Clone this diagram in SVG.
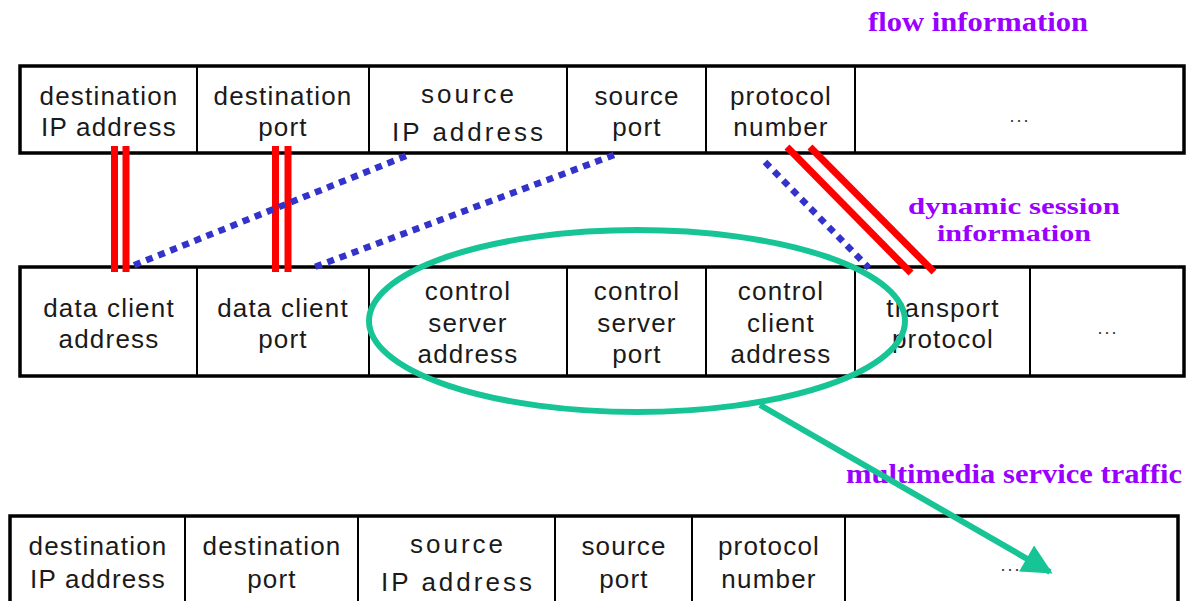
<svg xmlns="http://www.w3.org/2000/svg" width="1186" height="601" viewBox="0 0 1186 601">
  <defs>
    <style>
      .frame { fill: #ffffff; stroke: #000000; stroke-width: 3.5; }
      .div { stroke: #000000; stroke-width: 2; }
      .cell { font-family: "Liberation Sans", Arial, sans-serif; font-size: 26px; fill: #1a1a1a; text-anchor: middle; letter-spacing: 1.2px; }
      .wide { letter-spacing: 3px; }
      .dots { font-family: "Liberation Sans", Arial, sans-serif; font-size: 18px; fill: #333333; text-anchor: middle; letter-spacing: 2px; }
      .note { font-family: "Liberation Serif", "Times New Roman", serif; font-weight: bold; font-size: 28px; fill: #9a00ff; }
      .note-sm { font-size: 24px; }
      .red { stroke: #ff0000; stroke-width: 7; fill: none; }
      .blue { stroke: #3333cc; stroke-width: 6.5; stroke-dasharray: 7 6; fill: none; }
      .teal { stroke: #17c495; stroke-width: 6; fill: none; }
    </style>
    <marker id="tealHead" viewBox="0 0 10 10" refX="9" refY="5" markerWidth="5.5" markerHeight="5" markerUnits="strokeWidth" orient="auto">
      <path d="M0,0 L10,5 L0,10 Z" fill="#17c495"/>
    </marker>
  </defs>

  <rect width="1186" height="601" fill="#ffffff"/>

  <!-- Labels -->
  <text class="note" x="868" y="31" textLength="220" lengthAdjust="spacingAndGlyphs">flow information</text>
  <text class="note note-sm" x="908" y="214" textLength="212" lengthAdjust="spacingAndGlyphs">dynamic session</text>
  <text class="note note-sm" x="937" y="241" textLength="154" lengthAdjust="spacingAndGlyphs">information</text>
  <text class="note" x="846" y="483" textLength="336" lengthAdjust="spacingAndGlyphs">multimedia service traffic</text>

  <!-- Flow information record -->
  <g id="flow-table">
    <rect class="frame" x="20" y="66" width="1164" height="87"/>
    <line class="div" x1="197" y1="66" x2="197" y2="153"/>
    <line class="div" x1="369" y1="66" x2="369" y2="153"/>
    <line class="div" x1="567" y1="66" x2="567" y2="153"/>
    <line class="div" x1="706" y1="66" x2="706" y2="153"/>
    <line class="div" x1="855" y1="66" x2="855" y2="153"/>
    <g id="flow-dst-ip"><text class="cell" x="109" y="105">destination</text><text class="cell" x="109" y="136">IP address</text></g>
    <g id="flow-dst-port"><text class="cell" x="283" y="105">destination</text><text class="cell" x="283" y="136">port</text></g>
    <g id="flow-src-ip"><text class="cell wide" x="469" y="103">source</text><text class="cell wide" x="469" y="141">IP address</text></g>
    <g id="flow-src-port"><text class="cell" x="637" y="105">source</text><text class="cell" x="637" y="136">port</text></g>
    <g id="flow-proto"><text class="cell" x="781" y="105">protocol</text><text class="cell" x="781" y="136">number</text></g>
    <g id="flow-more"><text class="dots" x="1020" y="122">...</text></g>
  </g>

  <!-- Dynamic session record -->
  <g id="session-table">
    <rect class="frame" x="20" y="267" width="1164" height="109"/>
    <line class="div" x1="197" y1="267" x2="197" y2="376"/>
    <line class="div" x1="369" y1="267" x2="369" y2="376"/>
    <line class="div" x1="567" y1="267" x2="567" y2="376"/>
    <line class="div" x1="706" y1="267" x2="706" y2="376"/>
    <line class="div" x1="855" y1="267" x2="855" y2="376"/>
    <line class="div" x1="1030" y1="267" x2="1030" y2="376"/>
    <g id="data-client-addr"><text class="cell" x="109" y="317">data client</text><text class="cell" x="109" y="348">address</text></g>
    <g id="data-client-port"><text class="cell" x="283" y="317">data client</text><text class="cell" x="283" y="348">port</text></g>
    <g id="ctrl-server-addr"><text class="cell" x="468" y="300">control</text><text class="cell" x="468" y="332">server</text><text class="cell" x="468" y="363">address</text></g>
    <g id="ctrl-server-port"><text class="cell" x="637" y="300">control</text><text class="cell" x="637" y="332">server</text><text class="cell" x="637" y="363">port</text></g>
    <g id="ctrl-client-addr"><text class="cell" x="781" y="300">control</text><text class="cell" x="781" y="332">client</text><text class="cell" x="781" y="363">address</text></g>
    <g id="transport-proto"><text class="cell" x="943" y="317">transport</text><text class="cell" x="943" y="348">protocol</text></g>
    <g id="session-more"><text class="dots" x="1108" y="334">...</text></g>
  </g>

  <!-- Resulting flow record -->
  <g id="result-table">
    <rect class="frame" x="10" y="516" width="1168" height="100"/>
    <line class="div" x1="185" y1="516" x2="185" y2="601"/>
    <line class="div" x1="358" y1="516" x2="358" y2="601"/>
    <line class="div" x1="555" y1="516" x2="555" y2="601"/>
    <line class="div" x1="692" y1="516" x2="692" y2="601"/>
    <line class="div" x1="845" y1="516" x2="845" y2="601"/>
    <g id="res-dst-ip"><text class="cell" x="98" y="555">destination</text><text class="cell" x="98" y="588">IP address</text></g>
    <g id="res-dst-port"><text class="cell" x="272" y="555">destination</text><text class="cell" x="272" y="588">port</text></g>
    <g id="res-src-ip"><text class="cell wide" x="458" y="553">source</text><text class="cell wide" x="458" y="591">IP address</text></g>
    <g id="res-src-port"><text class="cell" x="624" y="555">source</text><text class="cell" x="624" y="588">port</text></g>
    <g id="res-proto"><text class="cell" x="769" y="555">protocol</text><text class="cell" x="769" y="588">number</text></g>
    <g id="res-more"><text class="dots" x="1011" y="571">...</text></g>
  </g>

  <!-- Connectors -->
  <g id="connectors">
    <line class="red" x1="114.5" y1="146" x2="114.5" y2="272"/>
    <line class="red" x1="126" y1="146" x2="126" y2="272"/>
    <line class="red" x1="275.5" y1="146" x2="275.5" y2="272"/>
    <line class="red" x1="288" y1="146" x2="288" y2="272"/>
    <line class="red" x1="787" y1="147" x2="911" y2="273"/>
    <line class="red" x1="810" y1="147" x2="934" y2="272"/>
    <line class="blue" x1="406" y1="156" x2="132" y2="266"/>
    <line class="blue" x1="614" y1="155" x2="312" y2="268"/>
    <line class="blue" x1="765" y1="162" x2="869" y2="268"/>
    <ellipse id="multimedia-group" class="teal" cx="637" cy="321" rx="268" ry="91"/>
    <line id="multimedia-arrow" class="teal" x1="760" y1="405" x2="1050" y2="572" marker-end="url(#tealHead)"/>
  </g>
</svg>
